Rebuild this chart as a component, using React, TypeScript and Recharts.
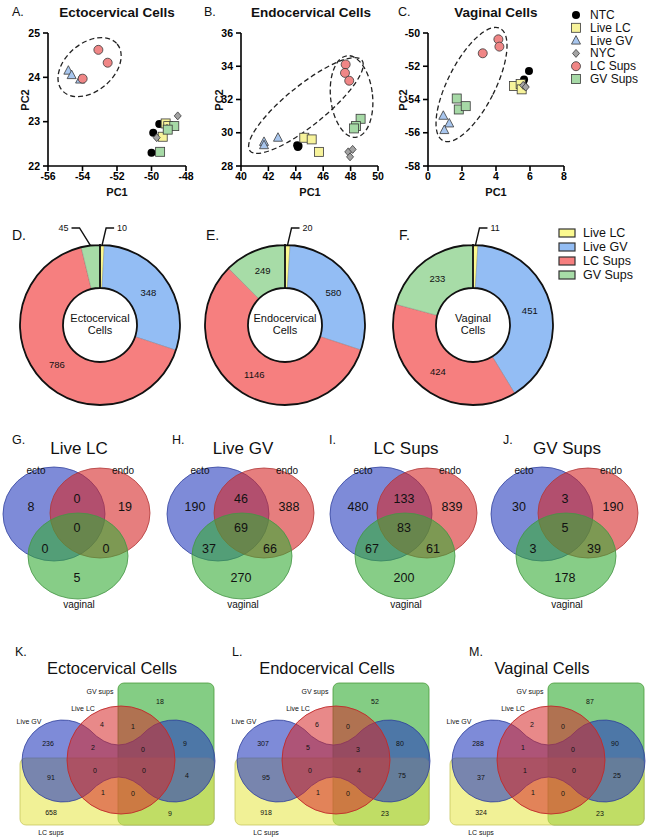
import {
  ScatterChart,
  Scatter,
  XAxis,
  YAxis,
  ReferenceDot,
  PieChart,
  Pie,
  Cell,
} from "recharts";

const FONT = "'Liberation Sans', Arial, Helvetica, sans-serif";

// PCA panels (A-C)
const groupNames = ["NTC", "Live LC", "Live GV", "NYC", "LC Sups", "GV Sups"];

const ectoPoints = [
  { g: "NTC", x: -49.55, y: 22.95 },
  { g: "NTC", x: -49.9, y: 22.75 },
  { g: "NTC", x: -50.0, y: 22.3 },
  { g: "Live LC", x: -49.18, y: 22.96 },
  { g: "Live LC", x: -49.03, y: 22.9 },
  { g: "Live LC", x: -49.35, y: 22.66 },
  { g: "Live GV", x: -54.82, y: 24.15 },
  { g: "Live GV", x: -54.63, y: 24.05 },
  { g: "Live GV", x: -54.14, y: 23.95 },
  { g: "NYC", x: -48.48, y: 23.13 },
  { g: "NYC", x: -49.7, y: 22.64 },
  { g: "NYC", x: -49.1, y: 22.85 },
  { g: "LC Sups", x: -53.08, y: 24.62 },
  { g: "LC Sups", x: -52.54, y: 24.33 },
  { g: "LC Sups", x: -53.99, y: 23.97 },
  { g: "GV Sups", x: -48.68, y: 22.9 },
  { g: "GV Sups", x: -49.06, y: 22.82 },
  { g: "GV Sups", x: -49.5, y: 22.32 },
];

const endoPoints = [
  { g: "NTC", x: 44.1, y: 29.25 },
  { g: "NTC", x: 44.15, y: 29.15 },
  { g: "NTC", x: 44.2, y: 29.2 },
  { g: "Live LC", x: 44.62, y: 29.7 },
  { g: "Live LC", x: 45.16, y: 29.6 },
  { g: "Live LC", x: 45.69, y: 28.85 },
  { g: "Live GV", x: 41.68, y: 29.45 },
  { g: "Live GV", x: 41.68, y: 29.25 },
  { g: "Live GV", x: 42.7, y: 29.7 },
  { g: "NYC", x: 47.83, y: 28.85 },
  { g: "NYC", x: 48.15, y: 29.0 },
  { g: "NYC", x: 47.96, y: 28.55 },
  { g: "LC Sups", x: 47.64, y: 34.11 },
  { g: "LC Sups", x: 47.59, y: 33.6 },
  { g: "LC Sups", x: 47.9, y: 33.13 },
  { g: "GV Sups", x: 48.73, y: 30.84 },
  { g: "GV Sups", x: 48.39, y: 30.4 },
  { g: "GV Sups", x: 48.25, y: 30.26 },
];

const vagPoints = [
  { g: "NTC", x: 5.94, y: -52.29 },
  { g: "NTC", x: 5.65, y: -52.79 },
  { g: "NTC", x: 5.6, y: -52.95 },
  { g: "Live LC", x: 5.06, y: -53.19 },
  { g: "Live LC", x: 5.45, y: -53.07 },
  { g: "Live LC", x: 5.51, y: -53.39 },
  { g: "Live GV", x: 0.9, y: -54.98 },
  { g: "Live GV", x: 1.25, y: -55.44 },
  { g: "Live GV", x: 0.96, y: -55.84 },
  { g: "NYC", x: 5.7, y: -53.2 },
  { g: "NYC", x: 5.6, y: -53.15 },
  { g: "NYC", x: 5.75, y: -53.25 },
  { g: "LC Sups", x: 4.14, y: -50.38 },
  { g: "LC Sups", x: 4.2, y: -50.82 },
  { g: "LC Sups", x: 3.22, y: -51.22 },
  { g: "GV Sups", x: 1.69, y: -53.94 },
  { g: "GV Sups", x: 1.81, y: -54.6 },
  { g: "GV Sups", x: 2.22, y: -54.4 },
];

const ectoXTicks = [-56, -54, -52, -50, -48];
const ectoYTicks = [22, 23, 24, 25];
const endoXTicks = [40, 42, 44, 46, 48, 50];
const endoYTicks = [28, 30, 32, 34, 36];
const vagXTicks = [0, 2, 4, 6, 8];
const vagYTicks = [-58, -56, -54, -52, -50];

// dashed cluster rings, centred in data units
const ectoRings = [{ x: -53.59, y: 24.23, rx: 36, ry: 24, angle: -40 }];
const endoRings = [
  { x: 44.74, y: 31.64, rx: 72, ry: 20, angle: -39 },
  { x: 48.07, y: 32.18, rx: 21, ry: 41, angle: -6 },
];
const vagRings = [{ x: 2.56, y: -53.1, rx: 23.6, ry: 63, angle: 27 }];

// Donuts (D-F)
const donutGroups = ["Live LC", "Live GV", "LC Sups", "GV Sups"];
const ectoCounts = [10, 348, 786, 45];
const endoCounts = [20, 580, 1146, 249];
const vagCounts = [11, 451, 424, 233];

// 3-set Venns (G-J): ecto only, ecto∩endo, endo only, all, ecto∩vag, endo∩vag, vag only
const vennSets = ["ecto", "endo", "vaginal"];
const liveLcVenn = [8, 0, 19, 0, 0, 0, 5];
const liveGvVenn = [190, 46, 388, 69, 37, 66, 270];
const lcSupsVenn = [480, 133, 839, 83, 67, 61, 200];
const gvSupsVenn = [30, 3, 190, 5, 3, 39, 178];

// 4-set Venns (K-M)
const fourSets = ["GV sups", "Live LC", "Live GV", "LC sups"];
const ectoFour = [18, 4, 1, 236, 2, 0, 9, 91, 0, 0, 4, 1, 0, 658, 9];
const endoFour = [52, 6, 0, 307, 5, 3, 80, 95, 0, 4, 75, 1, 0, 918, 23];
const vagFour = [87, 2, 0, 288, 1, 0, 90, 37, 1, 0, 25, 1, 0, 324, 23];

const markerFill: Record<string, string> = {
  NTC: "#000000",
  "Live LC": "#f7f39b",
  "Live GV": "#a8c6ee",
  NYC: "#a3a3a3",
  "LC Sups": "#f08686",
  "GV Sups": "#a6d9a6",
};
const donutFill = ["#fbf98f", "#93bdf4", "#f67f7f", "#a7dca7"];

function Marker({ kind, cx, cy }: { kind: string; cx: number; cy: number }) {
  const fill = markerFill[kind];
  const stroke = "#3a3a3a";
  if (kind === "NTC") return <circle cx={cx} cy={cy} r={4} fill={fill} />;
  if (kind === "LC Sups")
    return <circle cx={cx} cy={cy} r={4.5} fill={fill} stroke={stroke} strokeWidth={0.8} />;
  if (kind === "Live LC" || kind === "GV Sups")
    return (
      <rect x={cx - 4.5} y={cy - 4.5} width={9} height={9} fill={fill} stroke={stroke} strokeWidth={0.8} />
    );
  if (kind === "Live GV")
    return (
      <polygon
        points={`${cx},${cy - 5} ${cx + 4.5},${cy + 3.5} ${cx - 4.5},${cy + 3.5}`}
        fill={fill}
        stroke={stroke}
        strokeWidth={0.8}
      />
    );
  return (
    <polygon
      points={`${cx},${cy - 4} ${cx + 3.5},${cy} ${cx},${cy + 4} ${cx - 3.5},${cy}`}
      fill={fill}
      stroke={stroke}
      strokeWidth={0.8}
    />
  );
}

const axisLineStyle = { stroke: "#000", strokeWidth: 1.6 };
const tickStyle = { fill: "#000", fontSize: 10.5, fontWeight: 700, fontFamily: FONT };

function PcaPanel({ left, width, margin, points, xDomain, xTicks, yDomain, yTicks, rings }: any) {
  return (
    <div style={{ position: "absolute", left, top: 0 }}>
      <ScatterChart width={width} height={200} margin={margin}>
        <XAxis
          type="number"
          dataKey="x"
          domain={xDomain}
          ticks={xTicks}
          interval={0}
          height={30}
          tickSize={5}
          tickMargin={2}
          axisLine={axisLineStyle}
          tickLine={axisLineStyle}
          tick={tickStyle}
        />
        <YAxis
          type="number"
          dataKey="y"
          domain={yDomain}
          ticks={yTicks}
          interval={0}
          width={40}
          tickSize={5}
          tickMargin={3}
          axisLine={axisLineStyle}
          tickLine={axisLineStyle}
          tick={tickStyle}
        />
        {rings.map((r: any, i: number) => (
          <ReferenceDot
            key={i}
            x={r.x}
            y={r.y}
            r={1}
            shape={(p: any) => (
              <ellipse
                cx={p.cx}
                cy={p.cy}
                rx={r.rx}
                ry={r.ry}
                transform={`rotate(${r.angle} ${p.cx} ${p.cy})`}
                fill="none"
                stroke="#222"
                strokeWidth={1.3}
                strokeDasharray="5 3"
              />
            )}
          />
        ))}
        {groupNames.map((g) => (
          <Scatter
            key={g}
            name={g}
            data={points.filter((p: any) => p.g === g)}
            isAnimationActive={false}
            shape={(p: any) => <Marker kind={g} cx={p.cx} cy={p.cy} />}
          />
        ))}
      </ScatterChart>
    </div>
  );
}

const RAD = Math.PI / 180;

const donutLabel = (p: any) => {
  const { cx, cy, midAngle, innerRadius, outerRadius, percent, value } = p;
  if (percent < 0.05) {
    const side = Math.cos(midAngle * RAD) >= 0 ? 1 : -1;
    const x0 = cx + outerRadius * Math.cos(midAngle * RAD);
    const y0 = cy - outerRadius * Math.sin(midAngle * RAD);
    const y1 = cy - outerRadius - 17;
    const x1 = x0 + (side > 0 ? 4 : -11);
    const x2 = x1 + side * 8;
    return (
      <g>
        <polyline
          points={`${x0},${y0} ${x1},${y1} ${x2},${y1}`}
          fill="none"
          stroke="#111"
          strokeWidth={1.4}
        />
        <text
          x={x2 + side * 3}
          y={y1}
          textAnchor={side > 0 ? "start" : "end"}
          dominantBaseline="central"
          fontSize={9}
          fill="#111"
          fontFamily={FONT}
        >
          {value}
        </text>
      </g>
    );
  }
  const r = (innerRadius + outerRadius) / 2;
  return (
    <text
      x={cx + r * Math.cos(midAngle * RAD)}
      y={cy - r * Math.sin(midAngle * RAD)}
      textAnchor="middle"
      dominantBaseline="central"
      fontSize={9.5}
      fill="#111"
      fontFamily={FONT}
    >
      {value}
    </text>
  );
};

function Donut({ cx, counts }: { cx: number; counts: number[] }) {
  const data = donutGroups.map((name, i) => ({ name, value: counts[i] }));
  return (
    <div style={{ position: "absolute", left: cx - 110, top: 215 }}>
      <PieChart width={220} height={200} margin={{ top: 0, right: 0, bottom: 0, left: 0 }}>
        <Pie
          data={data}
          dataKey="value"
          cx={110}
          cy={110}
          innerRadius={37}
          outerRadius={80}
          startAngle={90}
          endAngle={-270}
          stroke="none"
          isAnimationActive={false}
          label={donutLabel}
          labelLine={false}
        >
          {data.map((d, i) => (
            <Cell key={d.name} fill={donutFill[i]} stroke="rgba(90,90,90,0.5)" strokeWidth={0.5} />
          ))}
        </Pie>
        <Pie
          data={[{ name: "ring", value: 1 }]}
          dataKey="value"
          cx={110}
          cy={110}
          innerRadius={37}
          outerRadius={80}
          startAngle={90}
          endAngle={-270}
          fill="none"
          stroke="#111"
          strokeWidth={1.8}
          isAnimationActive={false}
        >
          <Cell fill="none" stroke="#111" strokeWidth={1.8} />
        </Pie>
      </PieChart>
    </div>
  );
}

const venn3Pos = [
  [31, 507],
  [77, 499],
  [125, 507],
  [77, 528],
  [45, 549],
  [106, 549],
  [77, 578],
];

function Venn3({ x0, title, counts }: { x0: number; title: string; counts: number[] }) {
  return (
    <g transform={`translate(${x0},0)`}>
      <text x={79} y={454} fontSize={17} textAnchor="middle" fill="#111">
        {title}
      </text>
      <ellipse cx={54} cy={514} rx={51} ry={47} fill="rgb(40,62,190)" fillOpacity={0.6} stroke="#34449e" strokeWidth={0.8} />
      <ellipse cx={100} cy={513} rx={50} ry={45} fill="rgb(214,40,40)" fillOpacity={0.6} stroke="#b03838" strokeWidth={0.8} />
      <ellipse cx={78} cy={556} rx={50} ry={43} fill="rgb(55,172,55)" fillOpacity={0.6} stroke="#459445" strokeWidth={0.8} />
      <g fontSize={10} textAnchor="middle" fill="#111">
        <text x={36} y={474}>{vennSets[0]}</text>
        <text x={123} y={474}>{vennSets[1]}</text>
        <text x={79} y={608}>{vennSets[2]}</text>
      </g>
      {counts.map((c, i) => (
        <text key={i} x={venn3Pos[i][0]} y={venn3Pos[i][1]} fontSize={12.5} textAnchor="middle" dominantBaseline="central" fill="#111">
          {c}
        </text>
      ))}
    </g>
  );
}

const venn4Pos = [
  [160, 701],
  [102, 724],
  [133, 726],
  [48, 743],
  [93, 747],
  [143, 749],
  [185, 743],
  [51, 777],
  [95, 770],
  [144, 770],
  [187, 775],
  [103, 792],
  [133, 793],
  [51, 812],
  [170, 813],
];

function peanutPath(lx: number, rx: number, cy: number, R: number, waist: number) {
  const c = R * Math.cos(50 * RAD);
  const s = R * Math.sin(50 * RAD);
  const mid = (lx + rx) / 2;
  const qTop = cy - 2 * waist + s;
  const qBot = cy + 2 * waist - s;
  return `M ${lx + c} ${cy - s} Q ${mid} ${qTop} ${rx - c} ${cy - s} A ${R} ${R} 0 1 1 ${rx - c} ${cy + s} Q ${mid} ${qBot} ${lx + c} ${cy + s} A ${R} ${R} 0 1 1 ${lx + c} ${cy - s} Z`;
}

function Venn4({ x0, title, counts }: { x0: number; title: string; counts: number[] }) {
  return (
    <g transform={`translate(${x0},0)`}>
      <text x={112} y={674} fontSize={16.5} textAnchor="middle" fill="#111">
        {title}
      </text>
      <rect x={118} y={683} width={96} height={142} rx={6} fill="rgb(50,172,50)" fillOpacity={0.6} stroke="#4a9a3a" strokeWidth={0.8} />
      <rect x={20} y={758} width={194} height={67} rx={6} fill="rgb(232,232,80)" fillOpacity={0.6} stroke="#c8c860" strokeWidth={0.8} />
      <path d={peanutPath(63, 174, 761, 41, 16)} fill="rgb(40,62,190)" fillOpacity={0.6} stroke="#2f3f9a" strokeWidth={0.8} />
      <circle cx={121} cy={760} r={54} fill="rgb(214,40,40)" fillOpacity={0.55} stroke="#c02a2a" strokeWidth={0.9} />
      <g fontSize={7} textAnchor="middle" fill="#111">
        <text x={100} y={691} dominantBaseline="central">{fourSets[0]}</text>
        <text x={83} y={708} dominantBaseline="central">{fourSets[1]}</text>
        <text x={29} y={721} dominantBaseline="central">{fourSets[2]}</text>
        <text x={51} y={832} dominantBaseline="central">{fourSets[3]}</text>
        {counts.map((c, i) => (
          <text key={i} x={venn4Pos[i][0]} y={venn4Pos[i][1]} dominantBaseline="central">
            {c}
          </text>
        ))}
      </g>
    </g>
  );
}

export default function App() {
  return (
    <div
      style={{
        position: "absolute",
        left: 0,
        top: 0,
        width: 654,
        height: 840,
        background: "#fff",
        fontFamily: FONT,
        overflow: "hidden",
      }}
    >
      <PcaPanel
        left={0}
        width={200}
        margin={{ top: 33, right: 14, bottom: 4, left: 8 }}
        points={ectoPoints}
        xDomain={[-56, -48]}
        xTicks={ectoXTicks}
        yDomain={[22, 25]}
        yTicks={ectoYTicks}
        rings={ectoRings}
      />
      <PcaPanel
        left={200}
        width={200}
        margin={{ top: 33, right: 22, bottom: 4, left: 1 }}
        points={endoPoints}
        xDomain={[40, 50]}
        xTicks={endoXTicks}
        yDomain={[28, 36]}
        yTicks={endoYTicks}
        rings={endoRings}
      />
      <PcaPanel
        left={388}
        width={190}
        margin={{ top: 33, right: 14, bottom: 4, left: 0 }}
        points={vagPoints}
        xDomain={[0, 8]}
        xTicks={vagXTicks}
        yDomain={[-58, -50]}
        yTicks={vagYTicks}
        rings={vagRings}
      />

      <Donut cx={100} counts={ectoCounts} />
      <Donut cx={285} counts={endoCounts} />
      <Donut cx={473} counts={vagCounts} />

      <svg
        width={654}
        height={840}
        style={{ position: "absolute", left: 0, top: 0, pointerEvents: "none" }}
        fontFamily={FONT}
      >
        {/* panel letters */}
        <g fontSize={12.5} fill="#111">
          <text x={12} y={16}>A.</text>
          <text x={204} y={16}>B.</text>
          <text x={398} y={16}>C.</text>
        </g>
        <g fontSize={14} fill="#111">
          <text x={12} y={240}>D.</text>
          <text x={206} y={240}>E.</text>
          <text x={399} y={240}>F.</text>
        </g>
        <g fontSize={12.5} fill="#111">
          <text x={12} y={444}>G.</text>
          <text x={172} y={444}>H.</text>
          <text x={329} y={444}>I.</text>
          <text x={503} y={444}>J.</text>
          <text x={15} y={656}>K.</text>
          <text x={232} y={656}>L.</text>
          <text x={469} y={656}>M.</text>
        </g>

        {/* PCA titles + axis titles */}
        <g fontSize={13.5} fontWeight={700} textAnchor="middle" fill="#111">
          <text x={117} y={17}>Ectocervical  Cells</text>
          <text x={311} y={17}>Endocervical Cells</text>
          <text x={496} y={17}>Vaginal Cells</text>
        </g>
        <g fontSize={11} fontWeight={700} textAnchor="middle" fill="#111">
          <text x={117} y={196}>PC1</text>
          <text x={310} y={196}>PC1</text>
          <text x={496} y={196}>PC1</text>
          <text transform="translate(29,100) rotate(-90)">PC2</text>
          <text transform="translate(223,100) rotate(-90)">PC2</text>
          <text transform="translate(407,100) rotate(-90)">PC2</text>
        </g>

        {/* PCA legend */}
        {groupNames.map((g, i) => (
          <g key={g}>
            <Marker kind={g} cx={576} cy={15 + i * 12.8} />
            <text x={590} y={15 + i * 12.8} fontSize={12} dominantBaseline="central" fill="#111">
              {g}
            </text>
          </g>
        ))}

        {/* donut centre text */}
        <g fontSize={11} textAnchor="middle" fill="#111">
          <text x={100} y={322}>Ectocervical</text>
          <text x={100} y={334}>Cells</text>
          <text x={285} y={322}>Endocervical</text>
          <text x={285} y={334}>Cells</text>
          <text x={473} y={322}>Vaginal</text>
          <text x={473} y={334}>Cells</text>
        </g>

        {/* donut legend */}
        {donutGroups.map((g, i) => (
          <g key={g}>
            <rect x={559} y={229 + i * 14} width={16} height={8} fill={donutFill[i]} stroke="#333" strokeWidth={1.2} />
            <text x={583} y={233 + i * 14} fontSize={12.5} dominantBaseline="central" fill="#111">
              {g}
            </text>
          </g>
        ))}

        <Venn3 x0={0} title="Live LC" counts={liveLcVenn} />
        <Venn3 x0={164} title="Live GV" counts={liveGvVenn} />
        <Venn3 x0={327} title="LC Sups" counts={lcSupsVenn} />
        <Venn3 x0={488} title="GV Sups" counts={gvSupsVenn} />

        <Venn4 x0={0} title="Ectocervical Cells" counts={ectoFour} />
        <Venn4 x0={215} title="Endocervical Cells" counts={endoFour} />
        <Venn4 x0={430} title="Vaginal Cells" counts={vagFour} />
      </svg>
    </div>
  );
}
